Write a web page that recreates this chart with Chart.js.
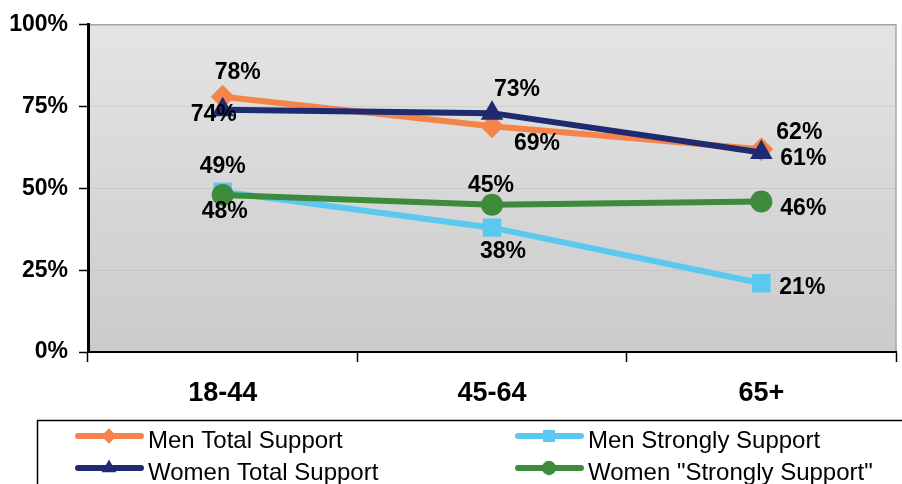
<!DOCTYPE html>
<html>
<head>
<meta charset="utf-8">
<script src="https://cdn.jsdelivr.net/npm/chart.js@4.4.1/dist/chart.umd.min.js"></script>
<style>
  body { margin: 0; background: #fff; }
  #wrap { width: 902px; height: 484px; position: relative; }
</style>
</head>
<body>
<div id="wrap"><canvas id="chart" width="902" height="484"></canvas></div>
<script>
// ------------------ Data ------------------
const ageGroups = ["18-44", "45-64", "65+"];
const menTotal = [78, 69, 62];
const womenTotal = [74, 73, 61];
const menStrongly = [49, 38, 21];
const womenStrongly = [48, 45, 46];
const yTicks = [0, 25, 50, 75, 100];

const FONT = "'Liberation Sans', Arial, sans-serif";

// label offsets from each point (dx, dy), one list per dataset
const labelOffsets = [
    [[15, -24], [45, 17], [38, -16]],
    [[-9, 5], [25, -23], [42, 6]],
    [[0, -25], [11, 24], [41, 4]],
    [[2, 17], [-1, -19], [42, 7]]
];

// ------------------ Plugins ------------------
const plotBackground = {
    id: "plotBackground",
    beforeDraw(chart) {
        const { ctx, chartArea: a } = chart;
        const g = ctx.createLinearGradient(0, a.top, 0, a.bottom);
        g.addColorStop(0, "#e4e4e4");
        g.addColorStop(1, "#cbcbcb");
        ctx.save();
        ctx.fillStyle = g;
        ctx.fillRect(a.left, a.top, a.right - a.left, a.bottom - a.top);
        ctx.strokeStyle = "#a6a6a6";
        ctx.lineWidth = 1.5;
        ctx.beginPath();
        ctx.moveTo(a.left, a.top);
        ctx.lineTo(a.right, a.top);
        ctx.lineTo(a.right, a.bottom);
        ctx.stroke();
        ctx.restore();
    }
};

const pointLabels = {
    id: "pointLabels",
    afterDatasetsDraw(chart) {
        const ctx = chart.ctx;
        ctx.save();
        ctx.font = "bold 23px " + FONT;
        ctx.fillStyle = "#000";
        ctx.textAlign = "center";
        ctx.textBaseline = "middle";
        chart.data.datasets.forEach((ds, i) => {
            const meta = chart.getDatasetMeta(i);
            meta.data.forEach((pt, j) => {
                const off = labelOffsets[i][j];
                ctx.fillText(ds.data[j] + "%", pt.x + off[0], pt.y + off[1]);
            });
        });
        ctx.restore();
    }
};

function drawMarker(ctx, style, x, y, r, color) {
    ctx.fillStyle = color;
    ctx.beginPath();
    if (style === "rectRot") {
        ctx.moveTo(x, y - r); ctx.lineTo(x + r, y); ctx.lineTo(x, y + r); ctx.lineTo(x - r, y);
    } else if (style === "triangle") {
        ctx.moveTo(x, y - r); ctx.lineTo(x + r * 0.866, y + r / 2); ctx.lineTo(x - r * 0.866, y + r / 2);
    } else if (style === "rect") {
        const s = r * Math.SQRT1_2;
        ctx.rect(x - s, y - s, 2 * s, 2 * s);
    } else {
        ctx.arc(x, y, r, 0, Math.PI * 2);
    }
    ctx.closePath();
    ctx.fill();
}

const boxLegend = {
    id: "boxLegend",
    afterDraw(chart) {
        const ctx = chart.ctx;
        ctx.save();
        ctx.strokeStyle = "#000";
        ctx.lineWidth = 1.5;
        ctx.strokeRect(37.5, 420.5, 900, 100);
        const slots = [
            { x: 75, y: 436 }, { x: 75, y: 468 },
            { x: 515, y: 436 }, { x: 515, y: 468 }
        ];
        ctx.font = "24px " + FONT;
        ctx.textBaseline = "alphabetic";
        chart.data.datasets.forEach((ds, k) => {
            const s = slots[k];
            ctx.strokeStyle = ds.borderColor;
            ctx.lineWidth = 6;
            ctx.lineCap = "round";
            ctx.beginPath();
            ctx.moveTo(s.x + 3, s.y);
            ctx.lineTo(s.x + 66, s.y);
            ctx.stroke();
            drawMarker(ctx, ds.pointStyle, s.x + 34, s.y, ds.pointRadius * 0.65, ds.borderColor);
            ctx.fillStyle = "#000";
            ctx.fillText(ds.label, s.x + 73, s.y + 12);
        });
        ctx.restore();
    }
};

// ------------------ Chart ------------------
function makeSet(label, data, color, style, radius, order) {
    return {
        label: label,
        data: data,
        borderColor: color,
        backgroundColor: color,
        borderWidth: 6,
        pointStyle: style,
        pointRadius: radius,
        pointHoverRadius: radius,
        pointBorderWidth: 0,
        order: order,
        tension: 0
    };
}

const ctx = document.getElementById("chart").getContext("2d");
const myChart = new Chart(ctx, {
    type: "line",
    data: {
        labels: ageGroups,
        datasets: [
            makeSet("Men Total Support", menTotal, "#f5844a", "rectRot", 12, 2),
            makeSet("Women Total Support", womenTotal, "#1f2a70", "triangle", 13, 0),
            makeSet("Men Strongly Support", menStrongly, "#5bc8f0", "rect", 13, 3),
            makeSet("Women \"Strongly Support\"", womenStrongly, "#3e8b3b", "circle", 11, 1)
        ]
    },
    options: {
        responsive: false,
        animation: false,
        layout: { autoPadding: false, padding: { top: 22, right: 6, left: 0, bottom: 0 } },
        plugins: {
            legend: { display: false },
            tooltip: { enabled: false }
        },
        scales: {
            x: {
                offset: true,
                grid: {
                    offset: true,
                    drawOnChartArea: false,
                    tickColor: "#000",
                    tickLength: 10,
                    tickWidth: 1.5
                },
                border: { color: "#000", width: 2 },
                ticks: {
                    color: "#000",
                    padding: 15,
                    font: { family: FONT, size: 27, weight: "bold" }
                },
                afterFit(scale) { scale.height = 132; }
            },
            y: {
                min: 0,
                max: 100,
                afterBuildTicks(scale) { scale.ticks = yTicks.map(v => ({ value: v })); },
                grid: {
                    color: "rgba(150,150,150,0.2)",
                    tickColor: "#000",
                    tickLength: 9,
                    tickWidth: 1.5
                },
                border: { color: "#000", width: 3 },
                ticks: {
                    color: "#000",
                    padding: 11,
                    font: { family: FONT, size: 23, weight: "bold" },
                    callback: (v) => v + "%"
                },
                afterFit(scale) { scale.width = 88; }
            }
        }
    },
    plugins: [plotBackground, pointLabels, boxLegend]
});
</script>
</body>
</html>
